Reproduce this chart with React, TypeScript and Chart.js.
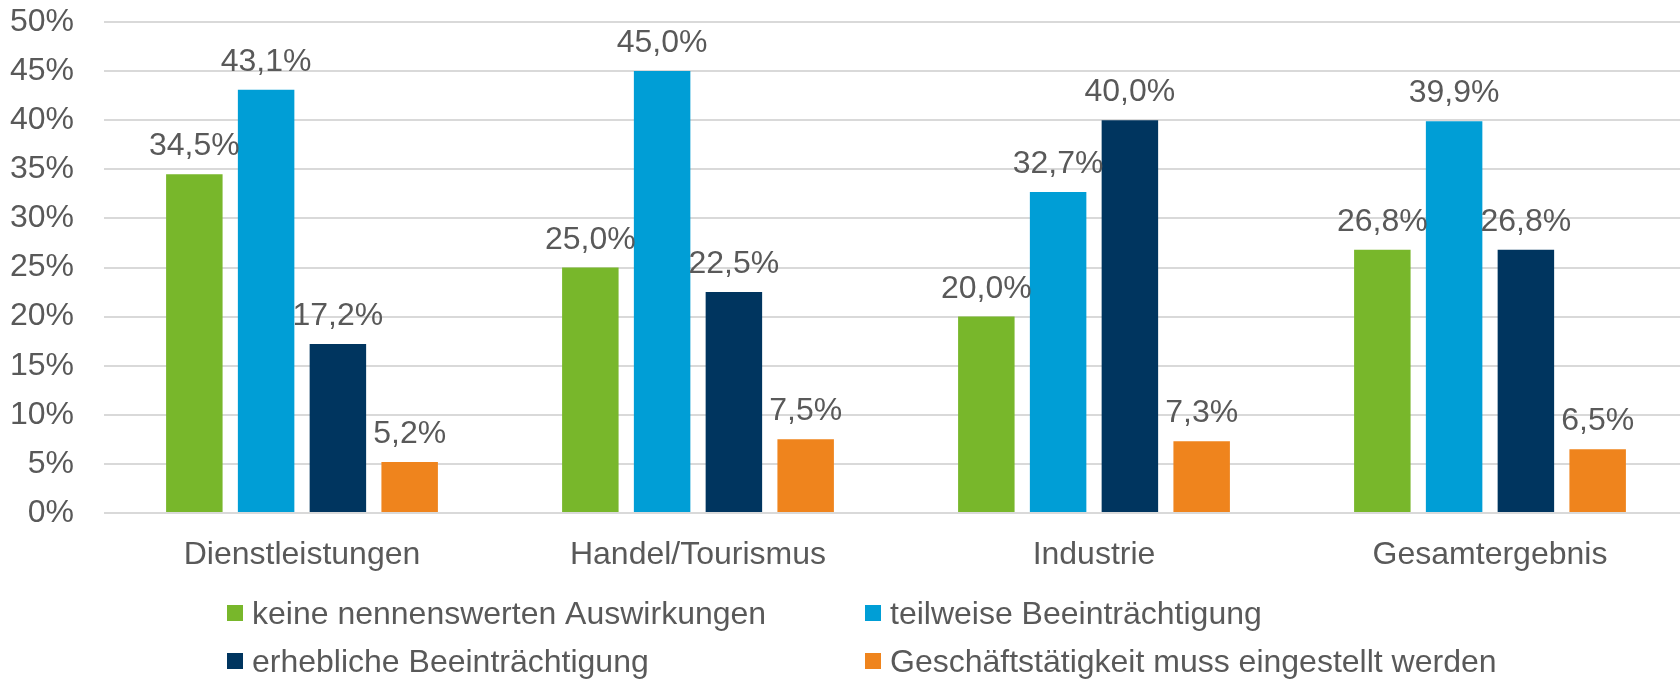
import React, { useEffect, useRef } from "react";
import { Chart, registerables } from "chart.js";

Chart.register(...registerables);

const categories = ["Dienstleistungen", "Handel/Tourismus", "Industrie", "Gesamtergebnis"];
const seriesNames = [
  "keine nennenswerten Auswirkungen",
  "teilweise Beeinträchtigung",
  "erhebliche Beeinträchtigung",
  "Geschäftstätigkeit muss eingestellt werden",
];
const keineValues = [34.5, 25.0, 20.0, 26.8];
const teilweiseValues = [43.1, 45.0, 32.7, 39.9];
const erheblicheValues = [17.2, 22.5, 40.0, 26.8];
const eingestelltValues = [5.2, 7.5, 7.3, 6.5];
const seriesColors = ["#78B72B", "#009ED6", "#00355F", "#EF841D"];
const yTickValues = [0, 5, 10, 15, 20, 25, 30, 35, 40, 45, 50];

const TEXT = "#595959";
const FONT = "'Liberation Sans', Arial, sans-serif";
const FS = 32;

const fmt = (v: number) => v.toFixed(1).replace(".", ",") + "%";

const valueLabels = {
  id: "valueLabels",
  afterDatasetsDraw(chart: any) {
    const ctx = chart.ctx;
    ctx.save();
    ctx.font = `${FS}px ${FONT}`;
    ctx.fillStyle = TEXT;
    ctx.textAlign = "center";
    ctx.textBaseline = "alphabetic";
    chart.data.datasets.forEach((ds: any, di: number) => {
      const meta = chart.getDatasetMeta(di);
      meta.data.forEach((bar: any, i: number) => {
        ctx.fillText(fmt(ds.data[i]), bar.x, bar.y - 19);
      });
    });
    ctx.restore();
  },
};

const customLegend = {
  id: "customLegend",
  afterDraw(chart: any) {
    const ctx = chart.ctx;
    const h = chart.height;
    const colX = [227, 865];
    const rowCenter = [h - 66, h - 18];
    ctx.save();
    ctx.font = `${FS}px ${FONT}`;
    ctx.textBaseline = "alphabetic";
    ctx.textAlign = "left";
    chart.data.datasets.forEach((ds: any, i: number) => {
      const x = colX[i % 2];
      const c = rowCenter[Math.floor(i / 2)];
      ctx.fillStyle = ds.backgroundColor;
      ctx.fillRect(x, c - 8, 16, 16);
      ctx.fillStyle = TEXT;
      ctx.fillText(ds.label, x + 25, c + 11);
    });
    ctx.restore();
  },
};

export default function App() {
  const ref = useRef<HTMLCanvasElement | null>(null);
  useEffect(() => {
    if (!ref.current) return;
    const allValues = [keineValues, teilweiseValues, erheblicheValues, eingestelltValues];
    const chart = new Chart(ref.current, {
      type: "bar",
      data: {
        labels: categories,
        datasets: allValues.map((vals, i) => ({
          label: seriesNames[i],
          data: vals,
          backgroundColor: seriesColors[i],
          borderWidth: 0,
          categoryPercentage: 0.725,
          barPercentage: 0.787,
        })),
      },
      options: {
        responsive: false,
        animation: false,
        layout: { padding: { top: 22, bottom: 96, left: 0, right: 0 } },
        plugins: {
          legend: { display: false },
          tooltip: { enabled: false },
        },
        scales: {
          x: {
            grid: { display: false, drawTicks: false },
            border: { display: false },
            ticks: {
              color: TEXT,
              font: { family: FONT, size: FS },
              padding: 23,
              maxRotation: 0,
            },
            afterFit(scale: any) {
              scale.height = 70;
            },
          },
          y: {
            min: 0,
            max: 50,
            afterBuildTicks(scale: any) {
              scale.ticks = yTickValues.map((v) => ({ value: v }));
            },
            grid: { color: "#D9D9D9", lineWidth: 2, drawTicks: false },
            border: { display: false },
            ticks: {
              color: TEXT,
              font: { family: FONT, size: FS },
              padding: 30,
              callback: (v: any) => v + "%",
            },
            afterFit(scale: any) {
              scale.width = 104;
              scale.paddingTop = 0;
              scale.paddingBottom = 0;
            },
          },
        },
      },
      plugins: [valueLabels, customLegend],
    });
    return () => chart.destroy();
  }, []);

  return (
    <div
      style={{
        position: "fixed",
        left: 0,
        top: 0,
        width: 1680,
        height: 679,
        overflow: "hidden",
        background: "#fff",
      }}
    >
      <canvas ref={ref} width={1688} height={679} style={{ width: 1688, height: 679 }} />
    </div>
  );
}
